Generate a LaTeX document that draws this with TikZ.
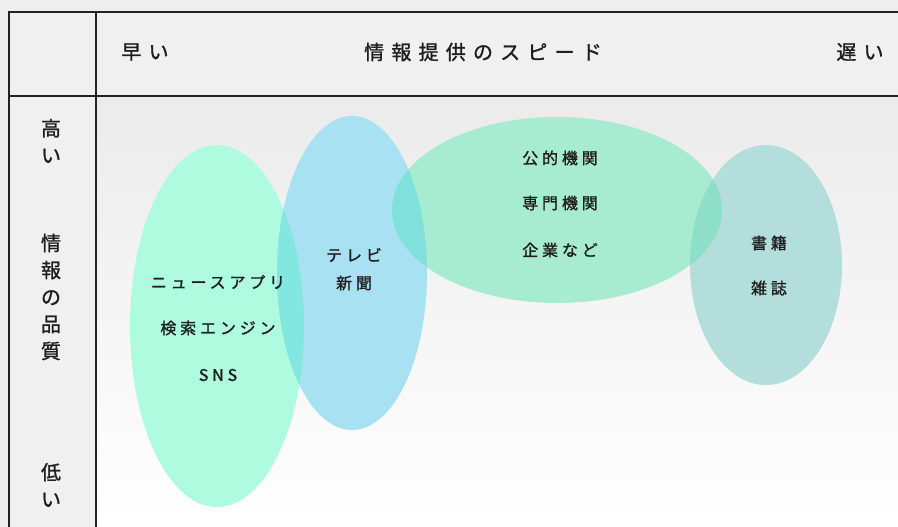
\documentclass[tikz,border=0pt]{standalone}
\usepackage{fontspec}
\setmainfont{Noto Sans CJK JP}
\newfontfamily\hdrfont[LetterSpace=36,FakeBold=1.2]{Noto Sans CJK JP}
\newfontfamily\bodyfont[LetterSpace=24,FakeBold=1.2]{Noto Sans CJK JP}
\newfontfamily\axisfont[FakeBold=1.2]{Noto Sans CJK JP}
\definecolor{bgout}{HTML}{EEEEEE}
\definecolor{hdrbg}{HTML}{F0F0F0}
\definecolor{bodytop}{HTML}{EBEBEB}
\definecolor{mint}{HTML}{AEFBDF}
\definecolor{skyb}{HTML}{A8E1F2}
\definecolor{mgreen}{HTML}{A7EBD0}
\definecolor{teal}{HTML}{B3DEDB}
\definecolor{ovA}{HTML}{82E8DF}
\definecolor{ovB}{HTML}{80E0DC}
\definecolor{ovC}{HTML}{8DDFC8}
\definecolor{txt}{HTML}{1E1E1E}
\definecolor{frame}{HTML}{222222}
\tikzset{
  hdrtext/.style={font=\hdrfont\fontsize{20}{22}\selectfont, text=txt, inner sep=0pt},
  axistext/.style={font=\axisfont\fontsize{20}{27}\selectfont, text=txt, align=center, inner sep=0pt},
  bodytext/.style={font=\bodyfont\fontsize{16}{18}\selectfont, text=txt, inner sep=0pt},
  frameline/.style={draw=frame, line width=1.6pt}
}
\begin{document}
\begin{tikzpicture}[x=1pt,y=-1pt]
\useasboundingbox (0,0) rectangle (898,527);
% backgrounds
\fill[bgout] (0,0) rectangle (898,527);
\fill[hdrbg] (9,12) rectangle (898,96);
\fill[hdrbg] (9,96) rectangle (96,527);
\shade[top color=bodytop, bottom color=white] (96,96) rectangle (898,527);
% ellipses
\fill[mint] (217,326) ellipse [x radius=87, y radius=181];
\fill[skyb] (352,273) ellipse [x radius=75, y radius=157];
\fill[mgreen] (557,210) ellipse [x radius=165, y radius=93];
\fill[teal] (766,265) ellipse [x radius=76, y radius=120];
\begin{scope}
  \clip (217,326) ellipse [x radius=87, y radius=181];
  \fill[ovA] (352,273) ellipse [x radius=75, y radius=157];
\end{scope}
\begin{scope}
  \clip (352,273) ellipse [x radius=75, y radius=157];
  \fill[ovB] (557,210) ellipse [x radius=165, y radius=93];
\end{scope}
\begin{scope}
  \clip (557,210) ellipse [x radius=165, y radius=93];
  \fill[ovC] (766,265) ellipse [x radius=76, y radius=120];
\end{scope}
% frame
\draw[frameline] (9,540) -- (9,12) -- (910,12);
\draw[frameline] (9,96) -- (910,96);
\draw[frameline] (96,12) -- (96,540);
% header texts
\node[hdrtext] (fast) at (145,52) {早い};
\node[hdrtext] (speed) at (483,52) {情報提供のスピード};
\node[hdrtext] (slow) at (860,52) {遅い};
% axis texts
\node[axistext] (high) at (51,141) {高\\い};
\node[axistext] (quality) at (51,297) {情\\報\\の\\品\\質};
\node[axistext] (low) at (51,485) {低\\い};
% body texts
\node[bodytext] (app) at (218,282) {ニュースアプリ};
\node[bodytext] (search) at (218,328) {検索エンジン};
\node[bodytext] (sns) at (218,375) {SNS};
\node[bodytext] (tv) at (354,255) {テレビ};
\node[bodytext] (paper) at (354,283) {新聞};
\node[bodytext] (public) at (560,158) {公的機関};
\node[bodytext] (expert) at (560,203) {専門機関};
\node[bodytext] (corp) at (560,250) {企業など};
\node[bodytext] (book) at (769,243) {書籍};
\node[bodytext] (mag) at (769,288) {雑誌};
\end{tikzpicture}
\end{document}
